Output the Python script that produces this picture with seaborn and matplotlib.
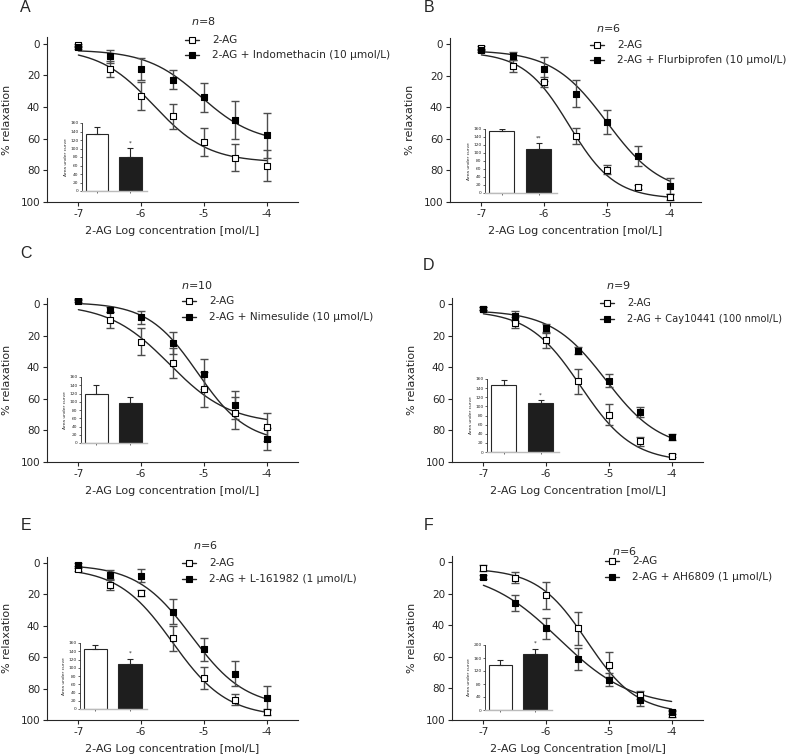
import numpy as np
import pandas as pd
import matplotlib
matplotlib.use("Agg")
import matplotlib.pyplot as plt
import seaborn as sns
from matplotlib.lines import Line2D

# ---- data ----
log_conc = [-7, -6.5, -6, -5.5, -5, -4.5, -4]
panel_letters = ["A", "B", "C", "D", "E", "F"]
n_values = [8, 6, 10, 9, 6, 6]
drug_labels = ["2-AG + Indomethacin (10 \u03bcmol/L)",
               "2-AG + Flurbiprofen (10 \u03bcmol/L)",
               "2-AG + Nimesulide (10 \u03bcmol/L)",
               "2-AG + Cay10441 (100 nmol/L)",
               "2-AG + L-161982 (1 \u03bcmol/L)",
               "2-AG + AH6809 (1 \u03bcmol/L)"]
x_titles = ["2-AG Log concentration [mol/L]", "2-AG Log concentration [mol/L]",
            "2-AG Log concentration [mol/L]", "2-AG Log Concentration [mol/L]",
            "2-AG Log concentration [mol/L]", "2-AG Log Concentration [mol/L]"]

ctrl_mean = [[1, 16, 33, 46, 62, 72, 77],
             [2.5, 14, 24, 58, 79.5, 90.5, 97],
             [-3.5, 10, 24, 37.5, 54, 69, 78],
             [3, 12, 23, 49, 70, 87, 96],
             [4, 14, 19, 48, 73, 87, 95],
             [4, 10, 21, 42, 65, 84, 96]]
ctrl_err = [[1, 5, 9, 8, 9, 8.5, 10],
            [1, 4, 3, 5, 3, 1, 2],
            [1, 5, 8.5, 9.5, 11, 10, 9],
            [1, 3.5, 5, 8, 6.5, 3, 1],
            [1, 3, 2, 8, 7, 3.5, 2],
            [2, 3.5, 8.5, 10.5, 8, 2.5, 2]]
drug_mean = [[2.5, 8, 16, 23, 34, 48, 58],
             [4, 7.5, 16, 31.5, 49.5, 71, 90],
             [-2, 3.5, 8.5, 24.5, 44.5, 64, 85.5],
             [3, 7.5, 15.5, 29.5, 48.5, 68.5, 84],
             [1, 7.5, 8, 31, 55, 70.5, 86],
             [9.5, 26, 42, 61.5, 74.5, 87.5, 95]]
drug_err = [[1, 4, 7, 6, 9, 12, 14],
            [1, 2.5, 7.5, 8.5, 7.5, 6.5, 5],
            [1, 1.5, 4, 7, 9.5, 9, 7],
            [1, 3, 3, 2, 4, 3, 2],
            [1, 3, 4, 8, 7.5, 8, 7.5],
            [1, 5, 6.5, 7, 4, 3.5, 1.5]]

# fitted sigmoid parameters (top, bottom, logEC50, hill)
ctrl_fit = [(3, 75, -5.8, 1.0), (5, 98, -5.6, 1.2), (0, 76, -5.55, 0.9),
            (4, 100, -5.45, 1.05), (3, 98, -5.5, 1.0), (4, 96, -5.35, 1.1)]
drug_fit = [(4, 63, -5.05, 1.0), (4, 95, -5.0, 1.0), (-1, 88, -5.1, 1.1),
            (4, 92, -5.05, 1.0), (1, 92, -5.2, 1.0), (5, 92, -5.8, 0.75)]

auc_ctrl = [134, 156, 118, 146, 145, 138]
auc_ctrl_err = [16, 5, 22, 12, 11, 17]
auc_drug = [80, 110, 97, 107, 110, 172]
auc_drug_err = [21, 14, 15, 7, 12, 17]
auc_star = ["*", "**", "", "*", "*", "*"]
auc_ymax = [160, 160, 160, 160, 160, 200]
auc_step = [20, 20, 20, 20, 20, 40]

# ---- layout (pixels) ----
W, H = 794, 755
ax_left = [47, 450, 47, 452, 47, 452]
ax_y0 = [43.5, 44, 304, 304, 563, 562]
ax_y100 = [202, 202, 462, 462, 720, 720]
inset_box = [(82, 147, 123, 191), (485, 557, 129, 193), (81, 147, 377, 443),
             (487, 559, 379, 452), (80, 147, 643, 709), (485, 552, 645, 710)]
leg_pos = [(185, 40, 55, 203, 21), (590, 45, 60, 608, 28), (182, 301, 317, 197, 285),
           (600, 303, 319, 618, 285), (182, 563, 579, 205, 545), (605, 561, 577, 624, 551)]
leg_size = [7.6, 7.6, 7.6, 7.1, 7.6, 7.6]
letter_pos = [(20, 7), (424, 8), (20, 254), (423, 265), (21, 525), (424, 525)]

sns.set_style("ticks")
plt.rcParams["font.family"] = ["DejaVu Sans"]
dark = "#262626"
ebar = "#4d4d4d"

fig = plt.figure(figsize=(W / 100, H / 100), dpi=100)


def px_rect(left, right, top, bottom):
    return [left / W, 1 - bottom / H, (right - left) / W, (bottom - top) / H]


def logistic(x, top, bottom, ec50, hill):
    return top + (bottom - top) / (1 + 10 ** ((ec50 - x) * hill))


xs = np.linspace(-7, -4, 200)

for i in range(6):
    y0, y100 = ax_y0[i], ax_y100[i]
    unit = (y100 - y0) / 100
    top_px = y0 - 4 * unit
    ax = fig.add_axes(px_rect(ax_left[i], ax_left[i] + 251, top_px, y100))

    for mean, err, fit, face in [(ctrl_mean[i], ctrl_err[i], ctrl_fit[i], "white"),
                                 (drug_mean[i], drug_err[i], drug_fit[i], "black")]:
        sns.lineplot(x=xs, y=logistic(xs, *fit), ax=ax, color=dark, lw=1.0)
        ax.errorbar(log_conc, mean, yerr=err, fmt="none", ecolor=ebar,
                    elinewidth=1.0, capsize=3, capthick=1.0, zorder=3)
        sns.scatterplot(x=log_conc, y=mean, ax=ax, marker="s", s=20,
                        color=face, edgecolor="black", linewidth=0.8, zorder=4)

    ax.set_xlim(-7.5, -3.5)
    ax.set_ylim(100, -4)
    ax.set_xticks([-7, -6, -5, -4])
    ax.set_xticklabels(["-7", "-6", "-5", "-4"])
    ax.set_yticks([0, 20, 40, 60, 80, 100])
    ax.tick_params(labelsize=7.5, length=3, width=0.8, color=dark, pad=2)
    for s in ["top", "right"]:
        ax.spines[s].set_visible(False)
    for s in ["left", "bottom"]:
        ax.spines[s].set_color(dark)
        ax.spines[s].set_linewidth(0.8)
    ax.set_xlabel(x_titles[i], fontsize=8, labelpad=5)
    ax.set_ylabel("% relaxation", fontsize=8, labelpad=6)

    # inset bar chart
    l, r, t, b = inset_box[i]
    ymax = auc_ymax[i]
    inner = fig.add_axes(px_rect(l, r, t, b))
    bars = pd.DataFrame({"group": ["2-AG", "drug"], "auc": [auc_ctrl[i], auc_drug[i]]})
    sns.barplot(data=bars, x="group", y="auc", hue="group", palette=["white", "#1e1e1e"],
                width=0.68, edgecolor=dark, linewidth=0.8, legend=False, ax=inner)
    inner.errorbar([0, 1], bars["auc"], yerr=[[0, 0], [auc_ctrl_err[i], auc_drug_err[i]]],
                   fmt="none", ecolor=dark, elinewidth=0.8, capsize=2.5, capthick=0.8)
    if auc_star[i]:
        inner.text(1, auc_drug[i] + auc_drug_err[i] + ymax * 0.04, auc_star[i],
                   ha="center", va="bottom", fontsize=4, color=dark)
    inner.set_xlim(-0.45, 1.5)
    inner.set_ylim(0, ymax)
    inner.set_yticks(np.arange(0, ymax + 1, auc_step[i]))
    inner.set_xticks([0, 1])
    inner.set_xticklabels(["", ""])
    inner.tick_params(labelsize=3.2, length=1.5, width=0.5, pad=1, color=dark)
    inner.set_xlabel("")
    inner.set_ylabel("Area under curve", fontsize=3.2, labelpad=1.5)
    inner.patch.set_alpha(0)
    for s in ["top", "right"]:
        inner.spines[s].set_visible(False)
    for s in ["left", "bottom"]:
        inner.spines[s].set_linewidth(0.6)
    inner.spines["bottom"].set_color("#bbbbbb")
    inner.spines["bottom"].set_linewidth(1.0)

    # legend drawn by hand
    hx, ly1, ly2, nx, ny = leg_pos[i]
    for ly, face, lab in [(ly1, "white", "2-AG"), (ly2, "black", drug_labels[i])]:
        fig.add_artist(Line2D([hx / W, (hx + 14) / W], [1 - ly / H, 1 - ly / H],
                              transform=fig.transFigure, color=dark, lw=1.0))
        fig.add_artist(Line2D([(hx + 7) / W], [1 - ly / H], transform=fig.transFigure,
                              marker="s", markersize=4, markerfacecolor=face,
                              markeredgecolor="black", markeredgewidth=0.8, lw=0))
        fig.text((hx + 27) / W, 1 - ly / H, lab, fontsize=leg_size[i],
                 va="center", ha="left")
    fig.text(nx / W, 1 - ny / H, f"$n$={n_values[i]}", fontsize=8,
             ha="center", va="center")

    lx, lyy = letter_pos[i]
    fig.text(lx / W, 1 - lyy / H, panel_letters[i], fontsize=11.5,
             family="Liberation Sans", ha="left", va="center")

fig.savefig("out.png", dpi=100)
